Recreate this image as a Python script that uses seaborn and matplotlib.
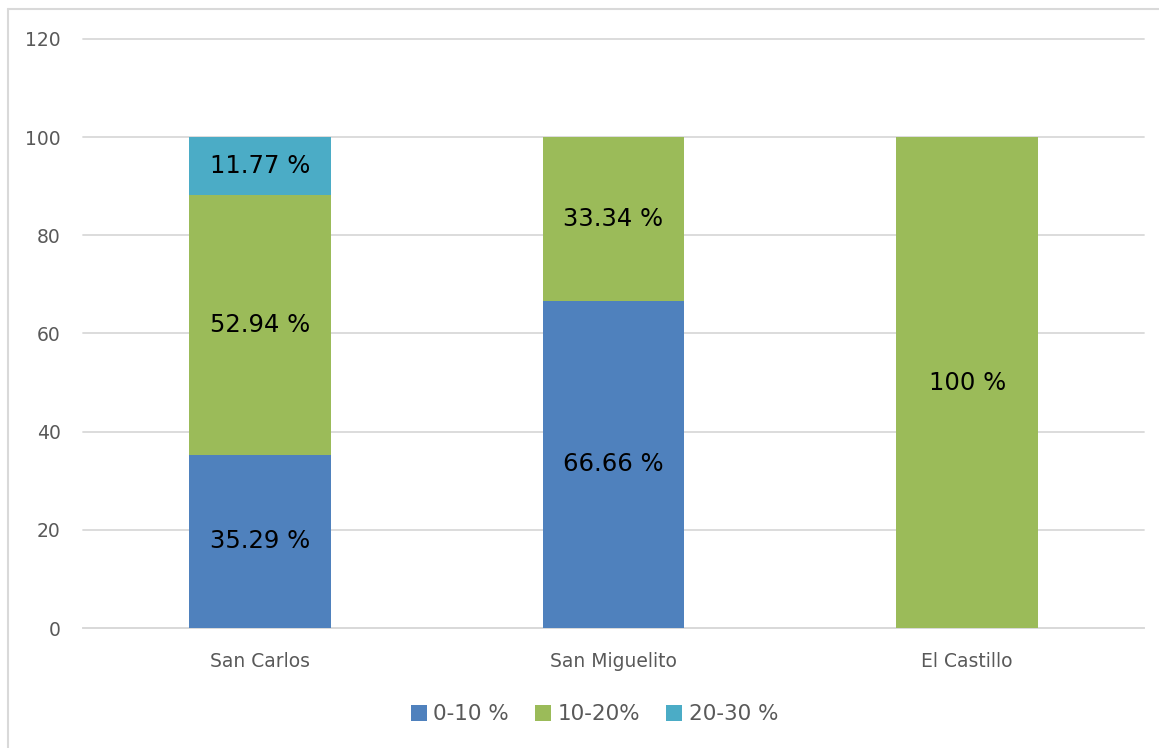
import numpy as np
import pandas as pd
import matplotlib
matplotlib.use("Agg")
import matplotlib.pyplot as plt
import seaborn as sns
from matplotlib.lines import Line2D
from matplotlib.patches import Patch

# data
sites = ["San Carlos", "San Miguelito", "El Castillo"]
series_names = ["0-10 %", "10-20%", "20-30 %"]
pct_0_10 = [35.29, 66.66, 0]
pct_10_20 = [52.94, 33.34, 100]
pct_20_30 = [11.77, 0, 0]
value_labels = [["35.29 %", "66.66 %", ""],
                ["52.94 %", "33.34 %", "100 %"],
                ["11.77 %", "", ""]]
y_ticks = [0, 20, 40, 60, 80, 100, 120]

colors = ["#4F81BD", "#9BBB59", "#4BACC6"]
text_gray = "#595959"
grid_gray = "#D9D9D9"

sns.set_style("white")
plt.rcParams["font.family"] = ["DejaVu Sans"]

fig = plt.figure(figsize=(11.59, 7.48), dpi=100)
ax = fig.add_axes([0.0716, 0.1604, 0.9155, 0.7875])

all_series = [pct_0_10, pct_10_20, pct_20_30]
bottom = np.zeros(len(sites))
for vals, name, col, labs in zip(all_series, series_names, colors, value_labels):
    df = pd.DataFrame({"site": sites, "value": vals})
    sns.barplot(data=df, x="site", y="value", color=col, width=0.4,
                bottom=bottom, ax=ax, errorbar=None, linewidth=0,
                saturation=1, zorder=3)
    for i, (v, lab) in enumerate(zip(vals, labs)):
        if v > 0 and lab:
            ax.text(i, bottom[i] + v / 2, lab, ha="center", va="center",
                    fontsize=17.5, color="black", zorder=4)
    bottom = bottom + np.array(vals)

ax.set_ylim(0, 120)
ax.set_xlim(-0.5, 2.5)
ax.set_yticks(y_ticks)
ax.yaxis.grid(True, color=grid_gray, linewidth=1.3, zorder=0)
for gl in ax.get_ygridlines():
    gl.set_clip_on(False)
ax.set_axisbelow(True)
ax.set_xlabel("")
ax.set_ylabel("")
for s in ["left", "right", "top"]:
    ax.spines[s].set_visible(False)
ax.spines["bottom"].set_color(grid_gray)
ax.spines["bottom"].set_linewidth(1.3)
ax.tick_params(axis="both", length=0, labelsize=13.5, colors=text_gray)
ax.tick_params(axis="x", pad=17)
ax.tick_params(axis="y", pad=16)

handles = [Patch(facecolor=c, edgecolor="none") for c in colors]
fig.legend(handles, series_names, loc="center", bbox_to_anchor=(0.513, 0.045),
           ncol=3, frameon=False, fontsize=15.5, handlelength=0.75,
           handleheight=0.75, handletextpad=0.3, columnspacing=1.2,
           labelcolor=text_gray)

# chart area border
fig.add_artist(Line2D([0.0065, 0.0065], [0, 0.988], transform=fig.transFigure,
                      color=grid_gray, linewidth=1.5))
fig.add_artist(Line2D([0.0065, 1.0], [0.988, 0.988], transform=fig.transFigure,
                      color=grid_gray, linewidth=1.5))

fig.savefig("out.png", dpi=100)
